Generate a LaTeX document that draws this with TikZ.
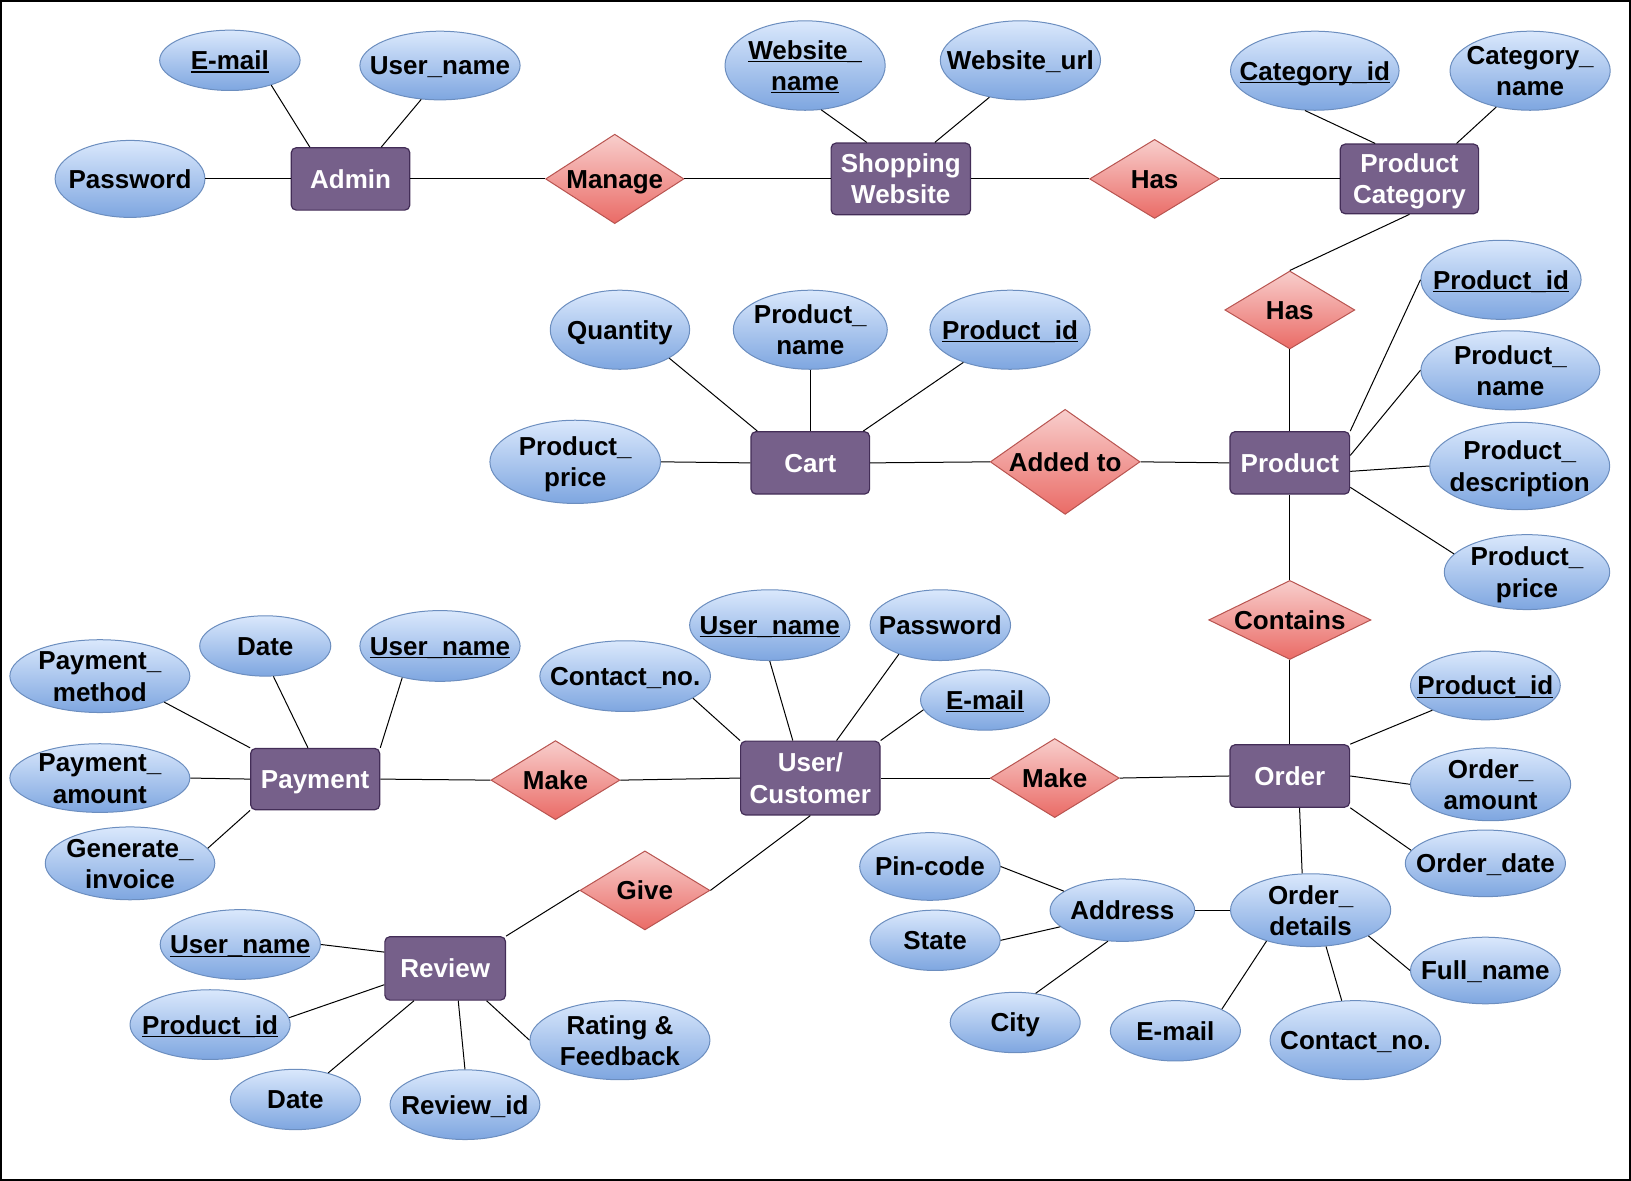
\documentclass[tikz,border=0pt]{standalone}
\usepackage{fontspec}
\setmainfont{Liberation Sans}
\usetikzlibrary{shapes.geometric}
\definecolor{entFill}{HTML}{76608A}
\definecolor{entDraw}{HTML}{432D57}
\definecolor{relTop}{HTML}{F8CECC}
\definecolor{relBot}{HTML}{EA6B66}
\definecolor{relDraw}{HTML}{B85450}
\definecolor{attTop}{HTML}{DAE8FC}
\definecolor{attBot}{HTML}{7EA6E0}
\definecolor{attDraw}{HTML}{6C8EBF}
\newcommand\dfont{\fontsize{13}{15.6}\selectfont\bfseries}
\newcommand\zt[1]{\makebox[0pt]{\raisebox{-1.6pt}[\height][\depth]{\begin{tabular}{@{}c@{}}#1\end{tabular}}}}
\newcommand\ul[1]{\setbox0\hbox{#1}\rlap{\rule[-1.4pt]{\wd0}{0.6pt}}\box0}
\begin{document}
\begin{tikzpicture}[x=0.52pt,y=-0.52pt,
  ent/.style n args={2}{rectangle, rounded corners=2.5pt, fill=entFill, draw=entDraw, line width=0.6pt, text=white, font=\dfont, inner sep=0pt, minimum width=#1*0.52pt, minimum height=#2*0.52pt},
  rel/.style n args={2}{diamond, top color=relTop, bottom color=relBot, draw=relDraw, line width=0.5pt, font=\dfont, inner xsep=0pt, inner ysep=-6pt, minimum width=#1*0.52pt, minimum height=#2*0.52pt},
  att/.style n args={2}{ellipse, top color=attTop, bottom color=attBot, draw=attDraw, line width=0.5pt, font=\dfont, inner xsep=0pt, inner ysep=-6pt, minimum width=#1*0.52pt, minimum height=#2*0.52pt},
  conn/.style={line width=0.5pt, draw=black}]
\useasboundingbox (0,0) rectangle (1568,1135);
\draw[line width=1pt] (0.9,0.9) rectangle (1567.1,1134.1);

% entities
\node[ent={114}{60}] (admin) at (337,172) {\zt{Admin}};
\node[ent={134}{69}] (sw) at (866,172) {\zt{Shopping\\Website}};
\node[ent={133}{67}] (pc) at (1355,172) {\zt{Product\\Category}};
\node[ent={114}{60}] (cart) at (779,445) {\zt{Cart}};
\node[ent={115}{60}] (prod) at (1240,445) {\zt{Product}};
\node[ent={124}{59}] (pay) at (303,749) {\zt{Payment}};
\node[ent={134}{71}] (uc) at (779,748) {\zt{User/\\Customer}};
\node[ent={115}{60}] (ord) at (1240,746) {\zt{Order}};
\node[ent={116}{61}] (rev) at (428,931) {\zt{Review}};

% relationships
\node[rel={133}{86}] (manage) at (591,172) {\zt{Manage}};
\node[rel={125}{76}] (hasA) at (1110,172) {\zt{Has}};
\node[rel={125}{75}] (hasB) at (1240,298) {\zt{Has}};
\node[rel={144}{101}] (added) at (1024,444) {\zt{Added to}};
\node[rel={156}{76}] (contains) at (1240,596) {\zt{Contains}};
\node[rel={124}{76}] (makeA) at (534,750) {\zt{Make}};
\node[rel={124}{76}] (makeB) at (1014,748) {\zt{Make}};
\node[rel={125}{76}] (give) at (620,856) {\zt{Give}};

% attributes: admin
\node[att={135}{58}] (aEmail) at (221,58) {\zt{\ul{E-mail}}};
\node[att={154}{66}] (aUname) at (423,63) {\zt{User\_name}};
\node[att={144}{74}] (aPw) at (125,172) {\zt{Password}};
% shopping website
\node[att={154}{86}] (wName) at (774,63) {\zt{\ul{Website\_}\\\ul{name}}};
\node[att={154}{76}] (wUrl) at (981,58) {\zt{Website\_url}};
% product category
\node[att={162}{76}] (cId) at (1264,68) {\zt{\ul{Category\_id}}};
\node[att={154}{76}] (cName) at (1471,68) {\zt{Category\_\\name}};
% cart
\node[att={134}{76}] (ctQty) at (596,317) {\zt{Quantity}};
\node[att={148}{76}] (ctPname) at (779,317) {\zt{Product\_\\name}};
\node[att={154}{76}] (ctPid) at (971,317) {\zt{\ul{Product\_id}}};
\node[att={164}{80}] (ctPrice) at (553,444) {\zt{Product\_\\price}};
% product
\node[att={154}{76}] (pId) at (1443,269) {\zt{\ul{Product\_id}}};
\node[att={172}{76}] (pName) at (1452,356) {\zt{Product\_\\name}};
\node[att={173}{84}] (pDesc) at (1461,448) {\zt{Product\_\\description}};
\node[att={159}{72}] (pPrice) at (1468,550) {\zt{Product\_\\price}};
% order
\node[att={144}{66}] (oPid) at (1428,659) {\zt{\ul{Product\_id}}};
\node[att={154}{70}] (oAmt) at (1433,754) {\zt{Order\_\\amount}};
\node[att={154}{64}] (oDate) at (1428,830) {\zt{Order\_date}};
\node[att={154}{70}] (od) at (1260,875) {\zt{Order\_\\details}};
% user/customer
\node[att={154}{68}] (uUname) at (740,601) {\zt{\ul{User\_name}}};
\node[att={135}{68}] (uPw) at (904,601) {\zt{Password}};
\node[att={164}{68}] (uContact) at (601,650) {\zt{Contact\_no.}};
\node[att={124}{58}] (uEmail) at (947,673) {\zt{\ul{E-mail}}};
% payment
\node[att={126}{58}] (pyDate) at (255,621) {\zt{Date}};
\node[att={154}{68}] (pyUname) at (423,621) {\zt{\ul{User\_name}}};
\node[att={173}{70}] (pyMethod) at (96,650) {\zt{Payment\_\\method}};
\node[att={173}{66}] (pyAmt) at (96,748) {\zt{Payment\_\\amount}};
\node[att={163}{70}] (pyGen) at (125,830) {\zt{Generate\_\\invoice}};
% review
\node[att={154}{67}] (rUname) at (231,908) {\zt{\ul{User\_name}}};
\node[att={154}{67}] (rPid) at (202,985) {\zt{\ul{Product\_id}}};
\node[att={125}{58}] (rDate) at (284,1057) {\zt{Date}};
\node[att={144}{67}] (rId) at (447,1062) {\zt{Review\_id}};
\node[att={173}{76}] (rRating) at (596,1000) {\zt{Rating \&\\Feedback}};
% address & order details
\node[att={139}{60}] (ad) at (1079,875) {\zt{Address}};
\node[att={135}{65}] (adPin) at (894,833) {\zt{Pin-code}};
\node[att={125}{58}] (adState) at (899,904) {\zt{State}};
\node[att={125}{58}] (adCity) at (976,983) {\zt{City}};
\node[att={125}{58}] (odEmail) at (1130,991) {\zt{E-mail}};
\node[att={164}{76}] (odContact) at (1303,1000) {\zt{Contact\_no.}};
\node[att={144}{64}] (odFull) at (1428,933) {\zt{Full\_name}};

% connectors
\draw[conn] (aPw.east) -- (admin.west);
\draw[conn] (aEmail.-31) -- (admin.142);
\draw[conn] (aUname.-119) -- (admin.46);
\draw[conn] (admin.east) -- (manage.west);
\draw[conn] (manage.east) -- (sw.west);
\draw[conn] (wName.-70) -- (sw.133);
\draw[conn] (wUrl.-130) -- (sw.47);
\draw[conn] (sw.east) -- (hasA.west);
\draw[conn] (hasA.east) -- (pc.west);
\draw[conn] (cId.-104) -- (pc.134);
\draw[conn] (cName.-133) -- (pc.37);
\draw[conn] (pc.south) -- (hasB.north);
\draw[conn] (hasB.south) -- (prod.north);
\draw[conn] (ctQty.-30) -- (cart.149);
\draw[conn] (ctPname.south) -- (cart.north);
\draw[conn] (ctPid.-145) -- (cart.31);
\draw[conn] (ctPrice.east) -- (cart.west);
\draw[conn] (cart.east) -- (added.west);
\draw[conn] (added.east) -- (prod.west);
\draw[conn] (pId.west) -- (prod.north east);
\draw[conn] (pName.west) -- (prod.7);
\draw[conn] (pDesc.west) -- (prod.-8);
\draw[conn] (pPrice.166) -- (prod.-22);
\draw[conn] (prod.south) -- (contains.north);
\draw[conn] (contains.south) -- (ord.north);
\draw[conn] (oPid.-155) -- (ord.north east);
\draw[conn] (oAmt.west) -- (ord.east);
\draw[conn] (oDate.170) -- (ord.south east);
\draw[conn] (ord.-73) -- (od.103);
\draw[conn] (od.west) -- (ad.east);
\draw[conn] (od.-24) -- (odFull.west);
\draw[conn] (od.-67) -- (odContact.109);
\draw[conn] (od.-145) -- (odEmail.25);
\draw[conn] (adPin.east) -- (ad.162);
\draw[conn] (adState.east) -- (ad.-165);
\draw[conn] (adCity.55) -- (ad.-115);
\draw[conn] (ord.west) -- (makeB.east);
\draw[conn] (makeB.west) -- (uc.east);
\draw[conn] (uc.west) -- (makeA.east);
\draw[conn] (makeA.west) -- (pay.east);
\draw[conn] (uUname.south) -- (uc.115);
\draw[conn] (uPw.-145) -- (uc.55);
\draw[conn] (uContact.-18) -- (uc.north west);
\draw[conn] (uEmail.-171) -- (uc.north east);
\draw[conn] (uc.south) -- (give.east);
\draw[conn] (give.west) -- (rev.north east);
\draw[conn] (pyDate.-75) -- (pay.103);
\draw[conn] (pyUname.-140) -- (pay.north east);
\draw[conn] (pyMethod.-22) -- (pay.north west);
\draw[conn] (pyAmt.east) -- (pay.west);
\draw[conn] (pyGen.11) -- (pay.south west);
\draw[conn] (rUname.east) -- (rev.165);
\draw[conn] (rPid.5) -- (rev.-165);
\draw[conn] (rDate.39) -- (rev.-134);
\draw[conn] (rId.north) -- (rev.-68);
\draw[conn] (rRating.west) -- (rev.-38);
\end{tikzpicture}
\end{document}
